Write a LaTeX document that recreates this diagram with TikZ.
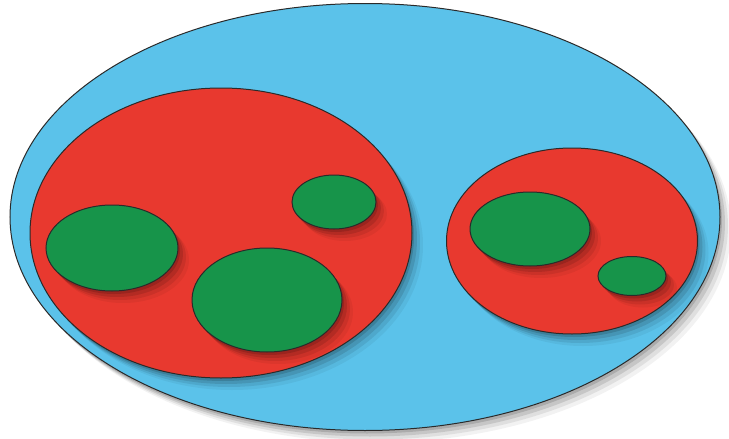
\documentclass[tikz,border=0pt]{standalone}
\usepackage{xcolor}
\usetikzlibrary{shapes.geometric,shadows}
\definecolor{setBlue}{HTML}{5BC2EA}
\definecolor{setRed}{HTML}{E8392F}
\definecolor{setGreen}{HTML}{17944A}
\definecolor{setLine}{HTML}{2A2A2A}

\begin{document}
\begin{tikzpicture}[
  x=0.5pt, y=-0.5pt,
  blob/.style={
    ellipse, inner sep=0pt, draw=setLine, line width=0.5pt,
    % soft shadow: a few stacked offsets
    drop shadow={shadow xshift=1pt, shadow yshift=-1.5pt, opacity=0.14, fill=black},
    drop shadow={shadow xshift=2.5pt, shadow yshift=-3pt, opacity=0.11, fill=black},
    drop shadow={shadow xshift=4pt, shadow yshift=-4.5pt, opacity=0.08, fill=black},
    drop shadow={shadow xshift=5.5pt, shadow yshift=-6pt, opacity=0.05, fill=black}
  },
  universe/.style={blob, fill=setBlue},
  group/.style={blob, fill=setRed},
  member/.style={blob, fill=setGreen}
]
\useasboundingbox (0,0) rectangle (729,439);

% ---- outer set -------------------------------------------------------------
\node[universe, minimum width=355pt, minimum height=213.5pt] (all) at (365,217) {};

% ---- subsets ---------------------------------------------------------------
\node[group, minimum width=191pt, minimum height=145pt] (left) at (221,233) {};
\node[group, minimum width=125.5pt, minimum height=93pt] (right) at (572,241) {};

% ---- elements --------------------------------------------------------------
\node[member, minimum width=66pt, minimum height=43pt] (l1) at (112,248) {};
\node[member, minimum width=75pt, minimum height=52pt] (l2) at (267,300) {};
\node[member, minimum width=42pt, minimum height=27pt] (l3) at (334,202) {};
\node[member, minimum width=60pt, minimum height=37pt] (r1) at (530,229) {};
\node[member, minimum width=34pt, minimum height=19.5pt] (r2) at (632,276) {};

\end{tikzpicture}
\end{document}
